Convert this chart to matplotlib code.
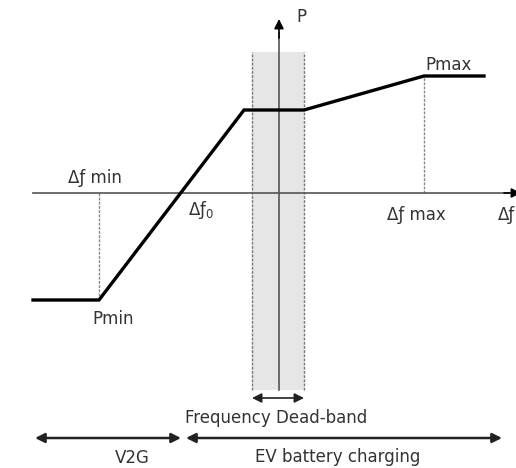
import matplotlib.pyplot as plt
from matplotlib.patches import FancyArrowPatch

plt.rcParams['font.family'] = ['DejaVu Sans']
plt.rcParams['mathtext.fontset'] = 'custom'
plt.rcParams['mathtext.rm'] = 'DejaVu Sans'

# droop characteristic: frequency deviation vs. power
df = [-2.46, -1.80, -0.35, 0.25, 1.45, 2.05]
p = [-1.07, -1.07, 0.83, 0.83, 1.17, 1.17]

df_min = -1.80
df_0 = -0.98
df_max = 1.45
p_min = -1.07
p_max = 1.17
band = [-0.27, 0.25]

txt = '#333333'
ax_col = '#555555'

fig = plt.figure(figsize=(5.16, 4.68), dpi=100)
ax = fig.add_axes([0, 0, 1, 1])
ax.set_xlim(-2.79, 2.37)
ax.set_ylim(-2.75, 1.93)
ax.axis('off')

# dead-band strip
ax.fill_between(band, -1.97, 1.41, color='#e6e6e6', lw=0, zorder=0)
for b in band:
    ax.plot([b, b], [-1.97, 1.41], color='#777777', lw=1.0, ls=(0, (2, 1)), zorder=1)

# axes with arrows
def arrow(x0, y0, x1, y1, style='-|>', lw=1.2, color=ax_col):
    ax.add_patch(FancyArrowPatch((x0, y0), (x1, y1), arrowstyle=style,
                                 mutation_scale=14, lw=lw, color=color,
                                 shrinkA=0, shrinkB=0, zorder=2))

ax.plot([-2.46, 2.30], [0, 0], color=ax_col, lw=1.2, zorder=2)
arrow(2.25, 0, 2.42, 0, color='black')
ax.plot([0, 0], [-1.97, 1.60], color=ax_col, lw=1.2, zorder=2)
arrow(0, 1.55, 0, 1.74, color='black')

# guide lines at the limits
ax.plot([df_min, df_min], [p_min, 0], color='#888888', lw=1.0, ls=(0, (2, 1)), zorder=1)
ax.plot([df_max, df_max], [0, p_max], color='#888888', lw=1.0, ls=(0, (2, 1)), zorder=1)

ax.plot(df, p, color='black', lw=2.4, solid_joinstyle='miter', zorder=3)

# region arrows
arrow(band[0], -2.05, band[1], -2.05, style='<|-|>', lw=1.2, color='#222222')
arrow(-2.44, -2.45, df_0, -2.45, style='<|-|>', lw=1.8, color='#222222')
arrow(df_0 + 0.05, -2.45, 2.23, -2.45, style='<|-|>', lw=1.8, color='#222222')

fs = 12
ax.text(0.17, 1.76, 'P', fontsize=fs, color=txt, va='center')
ax.text(-2.11, 0.15, 'Δƒ min', fontsize=fs, color=txt, va='center')
ax.text(-0.91, -0.17, 'Δƒ$_0$', fontsize=fs, color=txt, va='center')
ax.text(1.08, -0.22, 'Δƒ max', fontsize=fs, color=txt, va='center')
ax.text(2.19, -0.22, 'Δƒ', fontsize=fs, color=txt, va='center')
ax.text(1.46, 1.28, 'Pmax', fontsize=fs, color=txt, va='center')
ax.text(-1.87, -1.26, 'Pmin', fontsize=fs, color=txt, va='center')
ax.text(-0.03, -2.25, 'Frequency Dead-band', fontsize=fs, color=txt,
        ha='center', va='center')
ax.text(-1.47, -2.65, 'V2G', fontsize=fs, color=txt, ha='center', va='center')
ax.text(0.59, -2.64, 'EV battery charging', fontsize=fs, color=txt,
        ha='center', va='center')

fig.savefig('out.png', dpi=100)
